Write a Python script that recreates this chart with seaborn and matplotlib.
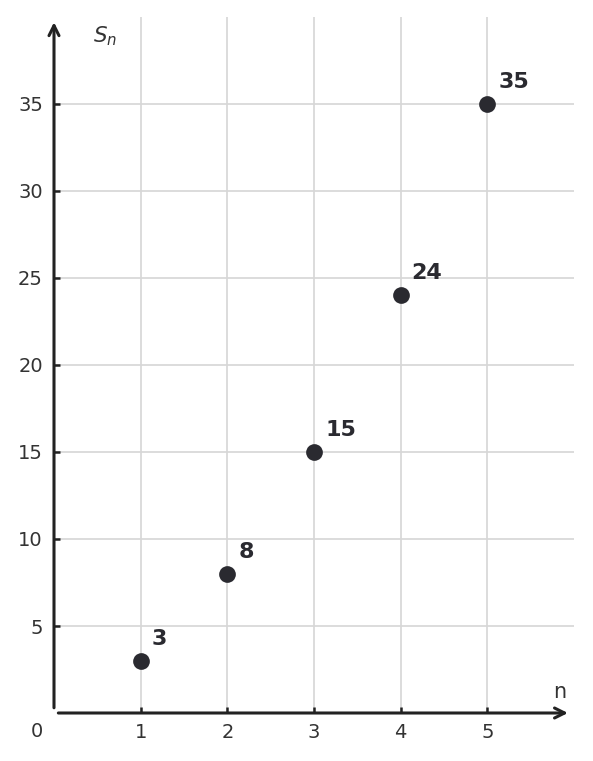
import matplotlib
matplotlib.use("Agg")
import matplotlib.pyplot as plt
import seaborn as sns
import pandas as pd

n_values = [1, 2, 3, 4, 5]
s_values = [3, 8, 15, 24, 35]
x_ticks = [1, 2, 3, 4, 5]
y_ticks = [5, 10, 15, 20, 25, 30, 35]

sns.set_theme(style="whitegrid")
plt.rcParams['font.family'] = ['DejaVu Sans']

df = pd.DataFrame({"n": n_values, "S": s_values})

fig = plt.figure(figsize=(5.93, 7.61), dpi=100)
ax = fig.add_axes([54/593, 48/761, 520/593, 696/761])

sns.scatterplot(data=df, x="n", y="S", ax=ax, s=145, color="#2a2a30",
                edgecolor="#2a2a30", linewidth=0, zorder=5)

ax.set_xlim(0, 6)
ax.set_ylim(0, 40)
ax.set_xticks(x_ticks)
ax.set_yticks(y_ticks)
ax.set_xticklabels([str(v) for v in x_ticks])
ax.set_yticklabels([str(v) for v in y_ticks])
ax.grid(True, color="#d6d6d6", linewidth=1.2)
ax.set_axisbelow(True)
for sp in ax.spines.values():
    sp.set_visible(False)
ax.set_xlabel("")
ax.set_ylabel("")
ax.tick_params(axis="both", bottom=True, left=True, direction="in", length=4.5,
               width=1.8, color="#222222", labelsize=14, labelcolor="#333333")
ax.tick_params(axis="x", pad=7)
ax.tick_params(axis="y", pad=8)

ax.annotate("", xy=(0, 39.7), xytext=(0, 0.3),
            arrowprops=dict(arrowstyle="->", lw=2.2, color="#222222",
                            mutation_scale=18, shrinkA=0, shrinkB=0), annotation_clip=False)
ax.annotate("", xy=(5.93, 0), xytext=(0.05, 0),
            arrowprops=dict(arrowstyle="->", lw=2.2, color="#222222",
                            mutation_scale=18, shrinkA=0, shrinkB=0), annotation_clip=False)

for xv, yv in zip(n_values, s_values):
    ax.annotate(str(yv), xy=(xv, yv), xytext=(11, 12), textcoords="offset pixels",
                ha="left", va="bottom", fontsize=16, fontweight="bold", color="#2a2a30")

ax.text(0.59, 38.9, "$S_n$", ha="center", va="center", fontsize=15.5, color="#333333")
ax.text(5.83, 1.2, "n", ha="center", va="center", fontsize=15, color="#333333")
ax.text(-0.2, -1.05, "0", ha="center", va="center", fontsize=14, color="#333333",
        clip_on=False)

fig.savefig("out.png", dpi=100)
